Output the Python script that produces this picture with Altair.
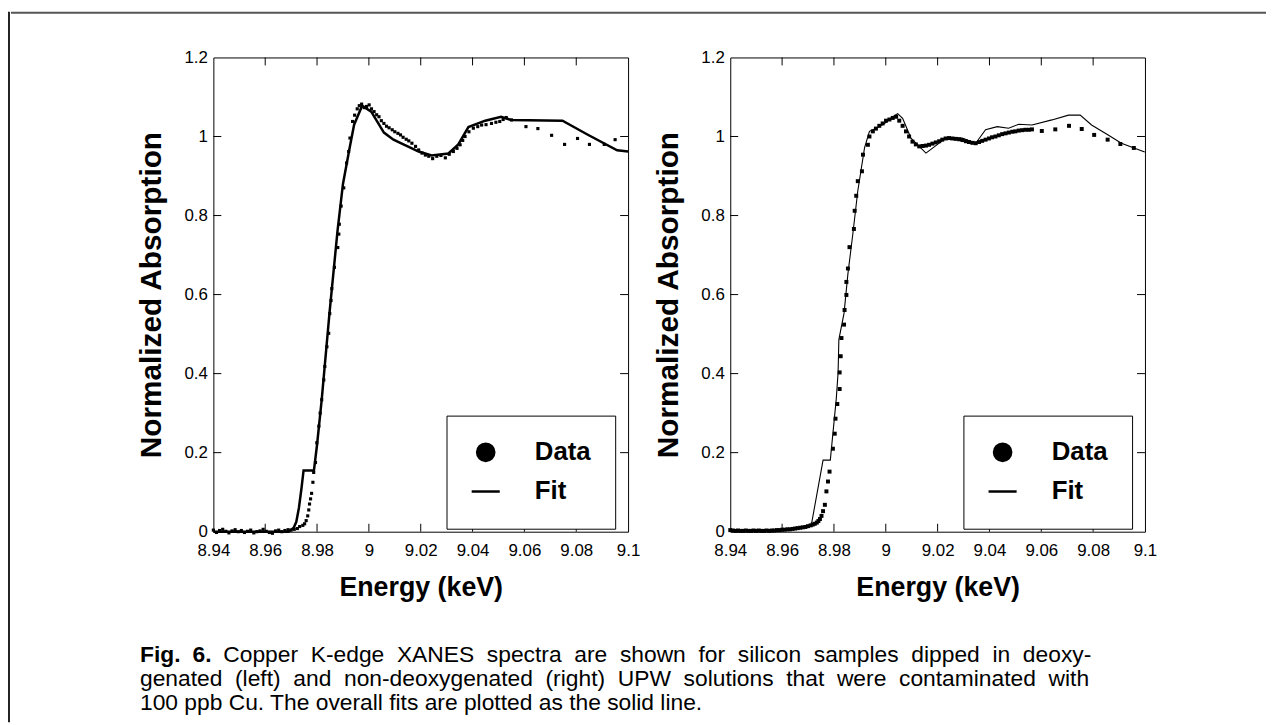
import altair as alt
import pandas as pd

# ---------------- data ----------------
x_tick_values = [8.94, 8.96, 8.98, 9.0, 9.02, 9.04, 9.06, 9.08, 9.1]
y_tick_values = [0, 0.2, 0.4, 0.6, 0.8, 1.0, 1.2]
x_inner_ticks = [8.96, 8.98, 9.0, 9.02, 9.04, 9.06, 9.08]
y_inner_ticks = [0.2, 0.4, 0.6, 0.8, 1.0]
legend_labels = ["Data", "Fit"]

left_fit_e = [8.940, 8.969, 8.971, 8.972, 8.973, 8.974, 8.9748, 8.9788, 8.9800, 8.9818,
              8.9848, 8.9879, 8.9900, 8.9924, 8.9943, 8.9974, 9.0009, 9.0058, 9.0095,
              9.0127, 9.0160, 9.0192, 9.0242, 9.0307, 9.0345, 9.0384, 9.0449, 9.0510,
              9.0548, 9.0747, 9.0843, 9.0958, 9.1000]
left_fit_v = [0.000, 0.000, 0.010, 0.025, 0.060, 0.110, 0.155, 0.155, 0.220, 0.334,
              0.553, 0.761, 0.880, 0.965, 1.030, 1.078, 1.063, 1.010, 0.992,
              0.982, 0.972, 0.962, 0.952, 0.957, 0.980, 1.024, 1.040, 1.050,
              1.042, 1.040, 1.005, 0.965, 0.962]

left_data_e = [8.9400, 8.9412, 8.9424, 8.9436, 8.9448, 8.9460, 8.9472, 8.9484, 8.9496, 8.9508,
               8.9520, 8.9532, 8.9544, 8.9556, 8.9568, 8.9580, 8.9592, 8.9604, 8.9616, 8.9628,
               8.9640, 8.9652, 8.9664, 8.9676, 8.9688, 8.9700, 8.9712, 8.9724, 8.9733, 8.9745,
               8.9752, 8.9758, 8.9764, 8.9768, 8.9771, 8.9775, 8.9779, 8.9784, 8.9787, 8.9794,
               8.9799, 8.9807, 8.9812, 8.9818, 8.9826, 8.9830, 8.9838, 8.9845, 8.9849, 8.9854,
               8.9857, 8.9867, 8.9880, 8.9884, 8.9886, 8.9893, 8.9903, 8.9914, 8.9922, 8.9927,
               8.9937, 8.9945, 8.9955, 8.9963, 8.9972, 8.9982, 8.9991, 9.0001, 9.0010, 9.0020,
               9.0030, 9.0039, 9.0048, 9.0058, 9.0068, 9.0078, 9.0090, 9.0100, 9.0112, 9.0122,
               9.0132, 9.0144, 9.0154, 9.0166, 9.0180, 9.0192, 9.0205, 9.0218, 9.0231, 9.0246,
               9.0262, 9.0278, 9.0295, 9.0310, 9.0326, 9.0340, 9.0352, 9.0362, 9.0371, 9.0386,
               9.0403, 9.0420, 9.0435, 9.0452, 9.0473, 9.0490, 9.0505, 9.0518, 9.0530, 9.0550,
               9.0606, 9.0652, 9.0705, 9.0755, 9.0805, 9.0851, 9.0908, 9.0950]
left_data_v = [0.004, -0.002, 0.003, 0.006, 0.001, -0.003, 0.002, 0.005, 0.000, 0.003,
               -0.002, 0.001, 0.004, -0.003, 0.000, 0.002, 0.006, 0.001, -0.002, -0.004,
               0.002, 0.004, 0.000, 0.003, 0.005, 0.004, 0.006, 0.008, 0.013, 0.016,
               0.020, 0.028, 0.040, 0.055, 0.070, 0.083, 0.097, 0.125, 0.150, 0.175,
               0.225, 0.267, 0.300, 0.334, 0.384, 0.418, 0.468, 0.502, 0.552, 0.585,
               0.615, 0.669, 0.719, 0.753, 0.778, 0.824, 0.870, 0.933, 0.962, 0.996,
               1.038, 1.054, 1.070, 1.078, 1.082, 1.073, 1.076, 1.080, 1.070, 1.063,
               1.055, 1.050, 1.040, 1.033, 1.026, 1.022, 1.017, 1.012, 1.008, 1.004,
               0.998, 0.993, 0.989, 0.983, 0.975, 0.966, 0.958, 0.953, 0.950, 0.944,
               0.950, 0.952, 0.946, 0.955, 0.962, 0.970, 0.979, 0.990, 1.000, 1.012,
               1.021, 1.025, 1.029, 1.030, 1.033, 1.036, 1.038, 1.043, 1.048, 1.042,
               1.025, 1.020, 1.003, 0.980, 0.995, 0.980, 0.980, 0.992]

right_fit_e = [8.9400, 8.9592, 8.9669, 8.9713, 8.9758, 8.9786, 8.9809, 8.9816, 8.9819, 8.9839,
               8.9854, 8.9873, 8.9892, 8.9918, 8.9937, 8.9963, 8.9995, 9.0027, 9.0046, 9.0065,
               9.0097, 9.0155, 9.0232, 9.0295, 9.0347, 9.0385, 9.0430, 9.0474, 9.0513, 9.0564,
               9.0641, 9.0705, 9.0750, 9.0794, 9.0858, 9.0909, 9.0999]
right_fit_v = [0.002, 0.004, 0.008, 0.018, 0.181, 0.181, 0.336, 0.403, 0.486, 0.553,
               0.653, 0.754, 0.862, 0.971, 1.013, 1.021, 1.033, 1.050, 1.058, 1.046,
               0.996, 0.958, 0.996, 0.996, 0.983, 1.017, 1.025, 1.021, 1.031, 1.029,
               1.042, 1.054, 1.054, 1.029, 1.004, 0.983, 0.961]

right_data_e = [8.9400, 8.9410, 8.9420, 8.9430, 8.9440, 8.9450, 8.9460, 8.9470, 8.9480, 8.9490,
                8.9500, 8.9510, 8.9520, 8.9530, 8.9540, 8.9550, 8.9560, 8.9570, 8.9580, 8.9590,
                8.9600, 8.9610, 8.9620, 8.9630, 8.9640, 8.9650, 8.9660, 8.9670, 8.9680, 8.9690,
                8.9700, 8.9710, 8.9718, 8.9726, 8.9734, 8.9740, 8.9746, 8.9752, 8.9758, 8.9765,
                8.9771, 8.9777, 8.9783, 8.9796, 8.9803, 8.9806, 8.9813, 8.9822, 8.9822, 8.9826,
                8.9829, 8.9839, 8.9841, 8.9848, 8.9848, 8.9854, 8.9860, 8.9877, 8.9880, 8.9886,
                8.9892, 8.9908, 8.9912, 8.9931, 8.9937, 8.9950, 8.9962, 8.9975, 8.9988, 9.0001,
                9.0014, 9.0027, 9.0040, 9.0052, 9.0065, 9.0078, 9.0090, 9.0103, 9.0116, 9.0129,
                9.0142, 9.0155, 9.0167, 9.0180, 9.0193, 9.0206, 9.0218, 9.0231, 9.0244, 9.0257,
                9.0270, 9.0283, 9.0296, 9.0309, 9.0321, 9.0334, 9.0347, 9.0360, 9.0372, 9.0385,
                9.0398, 9.0410, 9.0423, 9.0436, 9.0449, 9.0462, 9.0475, 9.0488, 9.0500, 9.0513,
                9.0526, 9.0539, 9.0552, 9.0564, 9.0602, 9.0654, 9.0707, 9.0756, 9.0804, 9.0856,
                9.0905, 9.0957]
right_data_v = [0.004, 0.003, 0.002, 0.003, 0.002, 0.002, 0.003, 0.002, 0.002, 0.003,
                0.002, 0.003, 0.002, 0.002, 0.003, 0.002, 0.003, 0.003, 0.004, 0.004,
                0.005, 0.005, 0.006, 0.006, 0.007, 0.008, 0.009, 0.010, 0.011, 0.012,
                0.014, 0.016, 0.018, 0.020, 0.023, 0.027, 0.032, 0.040, 0.052, 0.068,
                0.102, 0.127, 0.152, 0.210, 0.248, 0.286, 0.323, 0.361, 0.403, 0.444,
                0.490, 0.524, 0.561, 0.599, 0.632, 0.666, 0.720, 0.766, 0.812, 0.850,
                0.887, 0.912, 0.954, 0.979, 1.000, 1.013, 1.020, 1.027, 1.033, 1.040,
                1.043, 1.047, 1.050, 1.040, 1.027, 1.013, 1.000, 0.987, 0.980, 0.975,
                0.976, 0.977, 0.979, 0.982, 0.985, 0.988, 0.992, 0.995, 0.996, 0.995,
                0.994, 0.993, 0.991, 0.988, 0.986, 0.984, 0.983, 0.986, 0.989, 0.992,
                0.995, 0.998, 1.000, 1.003, 1.006, 1.008, 1.010, 1.012, 1.013, 1.015,
                1.016, 1.017, 1.017, 1.018, 1.014, 1.018, 1.027, 1.019, 1.004, 0.992,
                0.981, 0.971]

caption_bold = ["Fig.", "6."]
caption_line1 = ["Copper", "K-edge", "XANES", "spectra", "are", "shown", "for", "silicon",
                 "samples", "dipped", "in", "deoxy-"]
caption_line2 = ["genated", "(left)", "and", "non-deoxygenated", "(right)", "UPW", "solutions",
                 "that", "were", "contaminated", "with"]
caption_line3 = "100 ppb Cu. The overall fits are plotted as the solid line."

# ---------------- chart ----------------
FONT = "Liberation Sans"
W, H = 418, 478
xscale = alt.Scale(domain=[8.94, 9.1], nice=False, zero=False)
yscale = alt.Scale(domain=[0, 1.2], nice=False, zero=False)

xaxis = alt.Axis(values=x_tick_values, format="~g", title="Energy (keV)",
                 ticks=False, tickSize=0, domain=False, grid=False,
                 labelFlush=False, labelOverlap=False, labelFont=FONT,
                 labelFontSize=17, labelColor="black", labelPadding=11,
                 titleFont=FONT, titleFontSize=27, titleFontWeight="bold",
                 titleColor="black", titlePadding=16)
yaxis = alt.Axis(values=y_tick_values, format="~g", title="Normalized Absorption",
                 ticks=False, tickSize=0, domain=False, grid=False,
                 labelFlush=False, labelOverlap=False, labelFont=FONT,
                 labelFontSize=17, labelColor="black", labelPadding=6,
                 titleFont=FONT, titleFontSize=30, titleFontWeight="bold",
                 titleColor="black", titlePadding=18)
X = alt.X("x:Q", scale=xscale, axis=xaxis)
Y = alt.Y("y:Q", scale=yscale, axis=yaxis)


def panel(fit_e, fit_v, data_e, data_v, fit_width, sq_size):
    fit_df = pd.DataFrame({"x": fit_e, "y": fit_v, "o": list(range(len(fit_e)))})
    data_df = pd.DataFrame({"x": data_e, "y": data_v})
    xt = pd.DataFrame({"x": x_inner_ticks})
    yt = pd.DataFrame({"y": y_inner_ticks})
    leg_df = pd.DataFrame({"series": legend_labels})

    fit = alt.Chart(fit_df).mark_line(color="black", strokeWidth=fit_width).encode(
        x=X, y=Y, order="o:Q")
    pts = alt.Chart(data_df).mark_square(color="black", size=sq_size, opacity=1).encode(
        x=X, y=Y)
    t_top = alt.Chart(xt).mark_rule(color="black").encode(x=X, y=alt.value(0), y2=alt.value(8))
    t_bot = alt.Chart(xt).mark_rule(color="black").encode(x=X, y=alt.value(H - 8), y2=alt.value(H))
    t_lft = alt.Chart(yt).mark_rule(color="black").encode(y=Y, x=alt.value(0), x2=alt.value(8))
    t_rgt = alt.Chart(yt).mark_rule(color="black").encode(y=Y, x=alt.value(W - 8), x2=alt.value(W))

    L = alt.Legend(title=None, orient="none", legendX=235, legendY=361,
                   strokeColor="black", fillColor="white", padding=24, rowPadding=10,
                   labelFont=FONT, labelFontSize=26, labelFontWeight="bold",
                   labelColor="black", labelOffset=34,
                   symbolStrokeWidth=2.5, symbolOpacity=1)
    leg = alt.Chart(leg_df).transform_filter("false").mark_point(
        filled=False, color="black", fill="black", stroke="black",
        strokeWidth=2.5, opacity=1).encode(
        shape=alt.Shape("series:N", scale=alt.Scale(domain=legend_labels,
                                                    range=["circle", "stroke"]), legend=L),
        size=alt.Size("series:N", scale=alt.Scale(domain=legend_labels,
                                                  range=[300, 800]), legend=L))
    return alt.layer(fit, pts, t_top, t_bot, t_lft, t_rgt, leg).properties(
        width=W, height=H, view=alt.ViewBackground(stroke="black", strokeWidth=1))


one = pd.DataFrame({"k": [0]})
left = panel(left_fit_e, left_fit_v, left_data_e, left_data_v, 2.5, 10)
right = panel(right_fit_e, right_fit_v, right_data_e, right_data_v, 1.1, 16)

spacer = alt.Chart(one).mark_point(opacity=0).properties(width=114, height=10)
row = alt.hconcat(spacer, left, right, spacing=11).resolve_scale(
    shape="independent", size="independent").resolve_legend(
    shape="independent", size="independent")

CAP = 23
GAP = "\u00a0 "  # widened word gap to imitate the justified lines


def txt(s, x, y, bold=False):
    return alt.Chart(pd.DataFrame({"t": [s]})).mark_text(
        align="left", baseline="middle", font=FONT, fontSize=CAP,
        fontWeight="bold" if bold else "normal", color="black").encode(
        text="t:N", x=alt.value(x), y=alt.value(y))


caption = alt.layer(
    txt(caption_bold[0], 130, 44, True),
    txt(caption_bold[1], 183, 44, True),
    txt(GAP.join(caption_line1), 214, 44),
    txt(GAP.join(caption_line2), 130, 68.5),
    txt(caption_line3, 130, 93),
).properties(width=1150, height=102)

topline = alt.Chart(one).mark_rule(color="#555555", strokeWidth=2).encode(
    x=alt.value(0), x2=alt.value(1265), y=alt.value(2)).properties(width=1265, height=4)
leftline = alt.Chart(one).mark_rule(color="#222222", strokeWidth=2).encode(
    x=alt.value(1), y=alt.value(1), y2=alt.value(717)).properties(width=2, height=717)

body = alt.vconcat(topline, alt.vconcat(row, caption, spacing=10), spacing=33)
chart = alt.hconcat(leftline, body, spacing=0).properties(padding=0).configure(
    font=FONT, padding=0).configure_view(stroke="transparent", strokeWidth=0)

chart.save("out.html", embed_options={"renderer": "svg", "actions": False})
